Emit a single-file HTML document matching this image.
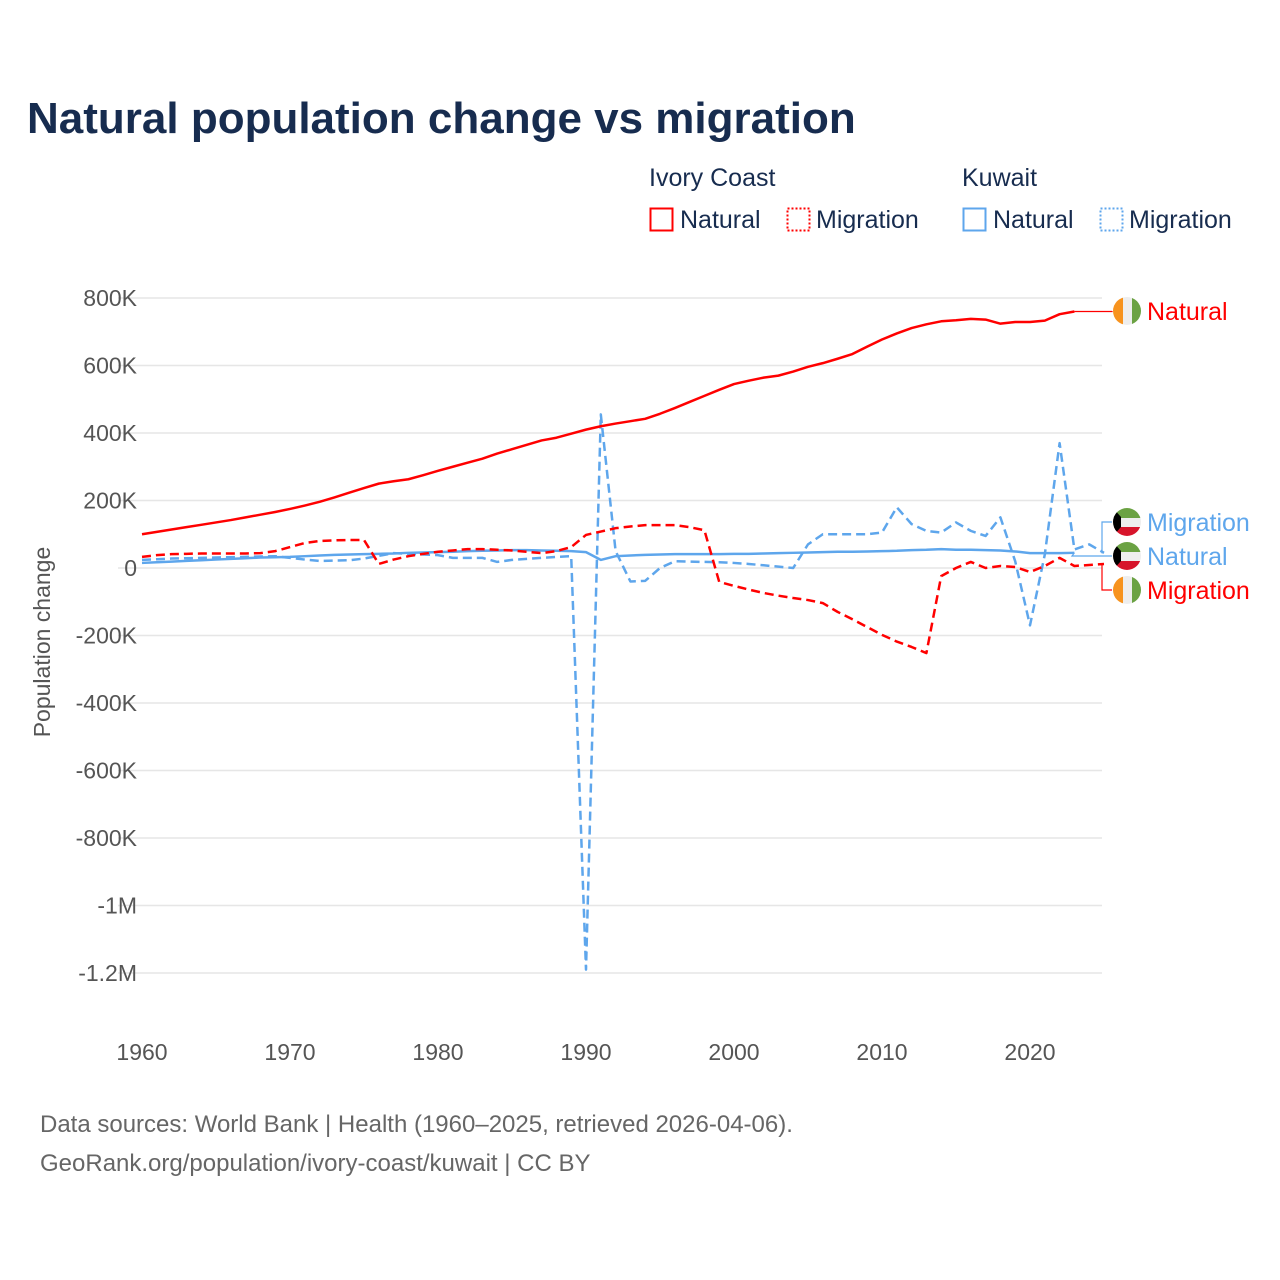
<!DOCTYPE html>
<html><head><meta charset="utf-8"><style>
body{margin:0;background:#fff;font-family:"Liberation Sans",sans-serif}
svg{display:block}
</style></head><body>
<svg id="chart" width="1280" height="1280" viewBox="0 0 1280 1280">
<text x="27" y="133" font-size="44" font-weight="bold" fill="#172c4f">Natural population change vs migration</text>
<g font-size="25" fill="#172c4f">
<text x="649" y="186">Ivory Coast</text>
<text x="962" y="186">Kuwait</text>
<g><rect x="650.5" y="208.5" width="22" height="22" fill="none" stroke="#f00" stroke-width="2"/><text x="680" y="228">Natural</text></g>
<g><rect x="787.5" y="208.5" width="22" height="22" fill="none" stroke="#f00" stroke-width="2" stroke-dasharray="2,2"/><text x="816" y="228">Migration</text></g>
<g><rect x="963.5" y="208.5" width="22" height="22" fill="none" stroke="#5ea6ec" stroke-width="2"/><text x="993" y="228">Natural</text></g>
<g><rect x="1100.5" y="208.5" width="22" height="22" fill="none" stroke="#5ea6ec" stroke-width="2" stroke-dasharray="2,2"/><text x="1129" y="228">Migration</text></g>
</g>
<g id="grid"></g>
<g id="yticks" font-size="23" fill="#555" text-anchor="end"></g>
<g id="xticks" font-size="23" fill="#555" text-anchor="middle"></g>
<text transform="translate(50,642) rotate(-90)" font-size="23" fill="#555" text-anchor="middle">Population change</text>
<g id="series"></g>
<g id="labels" font-size="25"></g>
<text x="40" y="1132" font-size="24" fill="#666">Data sources: World Bank | Health (1960–2025, retrieved 2026-04-06).</text>
<text x="40" y="1171" font-size="24" fill="#666">GeoRank.org/population/ivory-coast/kuwait | CC BY</text>
</svg>
<script>
const yTickValues=[800000,600000,400000,200000,0,-200000,-400000,-600000,-800000,-1000000,-1200000];
const yTickLabels=["800K","600K","400K","200K","0","-200K","-400K","-600K","-800K","-1M","-1.2M"];
const xTickYears=[1960,1970,1980,1990,2000,2010,2020];
const icNatural=[100,107,114,121,128,135,142,150,158,166,175,185,196,209,223,237,250,257,263,275,288,300,312,324,339,352,365,378,386,398,410,420,428,435,442,457,474,492,510,528,545,555,564,570,582,596,607,620,634,656,677,695,711,722,731,734,738,736,724,729,729,733,752,760];
const icMigration=[33,38,41,42,43,43,43,43,44,50,62,74,80,82,83,83,12,25,35,42,48,52,56,56,54,52,48,44,50,62,98,108,118,123,127,127,127,121,112,-41,-53,-64,-74,-82,-89,-95,-104,-130,-152,-175,-198,-218,-234,-252,-24,0,18,0,6,3,-12,6,30,6,9,12];
const kwNatural=[15,17,19,21,23,25,27,29,31,32,33,35,37,39,40,41,42,43,45,46,47,48,50,51,52,53,53,52,51,50,47,24,35,37,39,40,41,41,41,41,42,42,43,44,45,46,47,48,48,49,50,51,53,54,56,54,54,53,52,49,44,44,44,45];
const kwMigration=[24,26,28,29,30,31,32,33,34,35,30,25,21,22,23,28,36,44,42,40,38,30,30,30,18,24,27,30,33,35,-1190,455,50,-40,-38,0,20,19,18,17,15,12,8,4,0,70,100,100,100,100,105,180,130,110,105,135,110,95,150,20,-170,40,370,55,70,45];
const NS='http://www.w3.org/2000/svg';
const X0=142,XS=14.8,Y0=568,YS=67.5/200000;
const xs=yr=>X0+(yr-1960)*XS;
const ys=v=>Y0-v*YS;
const grid=document.getElementById('grid'),yt=document.getElementById('yticks'),xt=document.getElementById('xticks');
yTickValues.forEach((v,i)=>{
 const l=document.createElementNS(NS,'line');
 l.setAttribute('x1',118);l.setAttribute('x2',1102);l.setAttribute('y1',ys(v));l.setAttribute('y2',ys(v));
 l.setAttribute('stroke','#e6e6e6');l.setAttribute('stroke-width',1.5);
 
 
 grid.appendChild(l);
 const t=document.createElementNS(NS,'text');
 t.setAttribute('x',137);t.setAttribute('y',ys(v)+8);t.textContent=yTickLabels[i];
 
 
 yt.appendChild(t);
});
xTickYears.forEach(yr=>{
 const t=document.createElementNS(NS,'text');
 t.setAttribute('x',xs(yr));t.setAttribute('y',1060);t.textContent=yr;
 
 
 xt.appendChild(t);
});
const ser=document.getElementById('series');
function line(data,color,dash,name){
 const p=document.createElementNS(NS,'polyline');
 p.setAttribute('points',data.map((v,i)=>xs(1960+i)+','+ys(v*1000)).join(' '));
 p.setAttribute('fill','none');p.setAttribute('stroke',color);p.setAttribute('stroke-width',2.5);
 p.setAttribute('stroke-linejoin','round');
 if(dash)p.setAttribute('stroke-dasharray','9,5');
 
 
 ser.appendChild(p);
}
line(kwNatural,'#5ea6ec',false,'kuwait-natural-line');
line(kwMigration,'#5ea6ec',true,'kuwait-migration-line');
line(icMigration,'#f00',true,'ivory-coast-migration-line');
line(icNatural,'#f00',false,'ivory-coast-natural-line');
const lab=document.getElementById('labels');
function flag(cy,kind){
 const g=document.createElementNS(NS,'g');
 const cx=1127,r=14;
 let h='<clipPath id="c'+cy+'"><circle cx="'+cx+'" cy="'+cy+'" r="'+r+'"/></clipPath><g clip-path="url(#c'+cy+')">';
 if(kind==='ic'){h+='<rect x="'+(cx-r)+'" y="'+(cy-r)+'" width="10" height="28" fill="#f7931e"/><rect x="'+(cx-4)+'" y="'+(cy-r)+'" width="9" height="28" fill="#eee"/><rect x="'+(cx+5)+'" y="'+(cy-r)+'" width="10" height="28" fill="#6ba243"/>';}
 else{h+='<rect x="'+(cx-r)+'" y="'+(cy-r)+'" width="28" height="10" fill="#6ba243"/><rect x="'+(cx-r)+'" y="'+(cy-4)+'" width="28" height="9" fill="#eee"/><rect x="'+(cx-r)+'" y="'+(cy+5)+'" width="28" height="10" fill="#d7142b"/><polygon points="'+(cx-r)+','+(cy-r)+' '+(cx-6)+','+(cy-5)+' '+(cx-6)+','+(cy+5)+' '+(cx-r)+','+(cy+r)+'" fill="#000"/>';}
 g.innerHTML=h+'</g>';
 
 
 lab.appendChild(g);
}
function label(cy,txt,color,name){
 const t=document.createElementNS(NS,'text');
 t.setAttribute('x',1147);t.setAttribute('y',cy+9);t.setAttribute('fill',color);t.textContent=txt;
 
 
 lab.appendChild(t);
}
function conn(pts,color){
 const p=document.createElementNS(NS,'polyline');
 p.setAttribute('points',pts);p.setAttribute('fill','none');p.setAttribute('stroke',color);p.setAttribute('stroke-width',1.2);
 
 
 lab.appendChild(p);
}
const lastIcN=icNatural[icNatural.length-1]*1000, lastIcM=icMigration[icMigration.length-1]*1000;
const lastKwN=kwNatural[kwNatural.length-1]*1000, lastKwM=kwMigration[kwMigration.length-1]*1000;
conn(xs(2023)+','+ys(lastIcN)+' 1112,'+ys(lastIcN)+' 1112,311','#f00');
conn(xs(2025)+','+ys(lastKwM)+' 1102,'+ys(lastKwM)+' 1102,522 1112,522','#5ea6ec');
conn(xs(2023)+','+ys(lastKwN)+' 1072,556 1112,556','#5ea6ec');
conn(xs(2025)+','+ys(lastIcM)+' 1102,'+ys(lastIcM)+' 1102,590 1112,590','#f00');
flag(311,'ic');label(311,'Natural','#f00','ivory-coast-natural-label');
flag(522,'kw');label(522,'Migration','#5ea6ec','kuwait-migration-label');
flag(556,'kw');label(556,'Natural','#5ea6ec','kuwait-natural-label');
flag(590,'ic');label(590,'Migration','#f00','ivory-coast-migration-label');
</script>
</body></html>
